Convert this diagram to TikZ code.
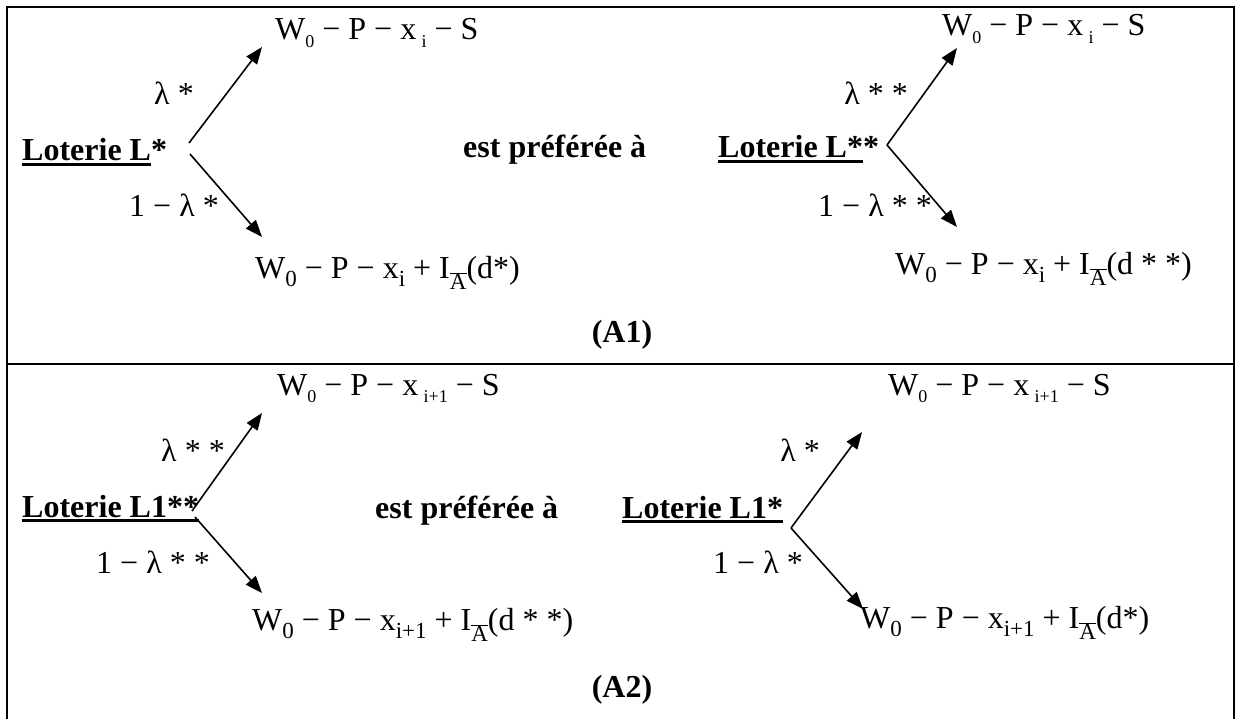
\documentclass[tikz,border=0pt]{standalone}
\usepackage{fontspec}
\setmainfont{Liberation Serif}
\usetikzlibrary{arrows.meta}

% indices des gains
\newcommand{\petitind}[1]{\raisebox{-0.22em}{\fontsize{18}{18}\selectfont #1}}
\newcommand{\ind}[1]{\raisebox{-0.26em}{\fontsize{23}{23}\selectfont #1}}
\newcommand{\Abarre}{\raisebox{-0.36em}{\fontsize{23}{23}\selectfont$\overline{\hbox{A}}$}}
% soulignement plus epais
\newcommand{\souligne}[1]{\setbox0\hbox{#1}\rlap{\rule[-5pt]{\wd0}{2.6pt}}\box0}

\begin{document}
\begin{tikzpicture}[x=1pt,y=-1pt,
    lot/.style={font=\fontsize{32}{38}\selectfont\bfseries,inner sep=0pt,anchor=base west},
    gain/.style={font=\fontsize{32}{38}\selectfont,inner sep=0pt,anchor=base west},
    proba/.style={font=\fontsize{32}{38}\selectfont,inner sep=0pt},
    fleche/.style={line width=1.6pt,-{Triangle[length=17pt,width=13pt]}},
    cadre/.style={line width=2.6pt}]
  \useasboundingbox (0,0) rectangle (1236,719);
  \draw[cadre] (7,719) -- (7,7) -- (1234,7) -- (1234,719);
  \draw[cadre] (7,364) -- (1234,364);

  % (A1)
  \node[lot] (L1) at (22,161) {\souligne{Loterie L}*};
  \node[lot] (pref1) at (463,158) {est préférée à};
  \node[lot] (L2) at (718,158) {\souligne{Loterie L*}*};
  \node[lot,anchor=base] (A1) at (622,342) {(A1)};
  \node[gain] (g1h) at (275,40) {W\petitind{0} − P − x\,\petitind{i} − S};
  \node[gain] (g1b) at (255,278) {W\ind{0} − P − x\ind{i} + I\Abarre(d*)};
  \node[gain] (g2h) at (942,36) {W\petitind{0} − P − x\,\petitind{i} − S};
  \node[gain] (g2b) at (895,274) {W\ind{0} − P − x\ind{i} + I\Abarre(d * *)};
  \node[proba] (p1h) at (174,93) {λ *};
  \node[proba] (p1b) at (174,205) {1 − λ *};
  \node[proba] (p2h) at (876,93) {λ * *};
  \node[proba] (p2b) at (875,205) {1 − λ * *};
  \coordinate (n1h) at (189,143);
  \coordinate (n1b) at (190,154);
  \coordinate (t1h) at (262,47);
  \coordinate (t1b) at (262,237);
  \coordinate (n2) at (887,145);
  \coordinate (t2h) at (957,48);
  \coordinate (t2b) at (957,227);
  \draw[fleche] (n1h) -- (t1h);
  \draw[fleche] (n1b) -- (t1b);
  \draw[fleche] (n2) -- (t2h);
  \draw[fleche] (n2) -- (t2b);

  % (A2)
  \node[lot] (L3) at (22,517) {\souligne{Loterie L1**}};
  \node[lot] (pref2) at (375,518) {est préférée à};
  \node[lot] (L4) at (622,518) {\souligne{Loterie L1*}};
  \node[lot,anchor=base] (A2) at (622,697) {(A2)};
  \node[gain] (g3h) at (277,395) {W\petitind{0} − P − x\,\petitind{i+1} − S};
  \node[gain] (g3b) at (252,630) {W\ind{0} − P − x\ind{i+1} + I\Abarre(d * *)};
  \node[gain] (g4h) at (888,395) {W\petitind{0} − P − x\,\petitind{i+1} − S};
  \node[gain] (g4b) at (860,628) {W\ind{0} − P − x\ind{i+1} + I\Abarre(d*)};
  \node[proba] (p3h) at (193,450) {λ * *};
  \node[proba] (p3b) at (153,562) {1 − λ * *};
  \node[proba] (p4h) at (800,450) {λ *};
  \node[proba] (p4b) at (758,562) {1 − λ *};
  \coordinate (n3h) at (192,511);
  \coordinate (n3b) at (195,517);
  \coordinate (t3h) at (262,413);
  \coordinate (t3b) at (262,593);
  \coordinate (n4) at (791,528);
  \coordinate (t4h) at (862,432);
  \coordinate (t4b) at (863,609);
  \draw[fleche] (n3h) -- (t3h);
  \draw[fleche] (n3b) -- (t3b);
  \draw[fleche] (n4) -- (t4h);
  \draw[fleche] (n4) -- (t4b);
\end{tikzpicture}
\end{document}
